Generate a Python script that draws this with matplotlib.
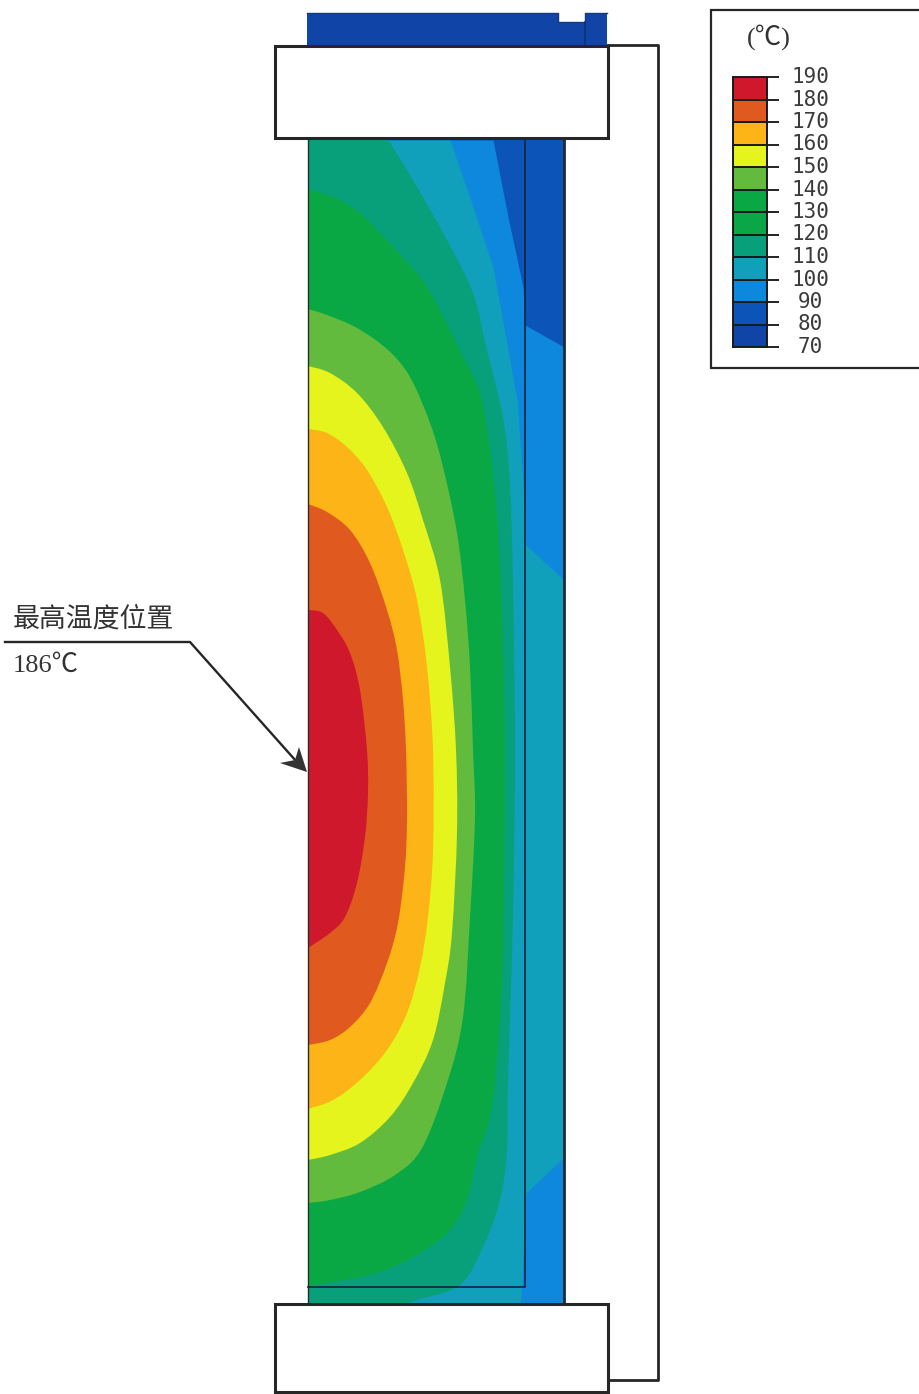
import matplotlib
matplotlib.use('Agg')
from matplotlib import pyplot as plt
from matplotlib.patches import PathPatch, Rectangle
from matplotlib.path import Path
from matplotlib.transforms import ScaledTranslation

# Colour scale
levels = [70, 80, 90, 100, 110, 120, 130, 140, 150, 160, 170, 180, 190]
band_colors = ['#1044a6', '#0c54b8', '#0e88dc', '#10a0bc', '#08a07a', '#0aa648',
               '#0aa845', '#62bb3c', '#e4f41c', '#fcb416', '#e05a20', '#d0182c']

# Isotherms (pixel position along the section)
iso_90_y = [140, 217, 287, 325, 347, 1303]
iso_90_x = [493, 508, 523, 525, 564, 564]
iso_100_y = [140, 207, 267, 350, 400, 483, 545, 580, 1157, 1177, 1193, 1297, 1303]
iso_100_x = [450, 473, 493, 508, 517, 523, 526, 564, 564, 543, 526, 521, 520]
iso_110_y = [138, 180, 240, 293, 350, 417, 483, 583, 750, 917, 1083, 1150, 1200, 1247, 1285, 1300, 1304]
iso_110_x = [387, 413, 447, 473, 487, 503, 510, 513, 515, 513, 508, 507, 500, 483, 460, 417, 405]
iso_120_y = [189, 197, 213, 247, 287, 357, 393, 450, 517, 617, 750, 883, 983, 1100, 1157, 1200, 1230, 1253, 1273, 1283, 1286]
iso_120_x = [308, 333, 360, 393, 427, 463, 480, 490, 497, 502, 505, 504, 502, 493, 477, 467, 450, 420, 377, 327, 308]
iso_140_y = [309, 315, 328, 350, 377, 423, 467, 533, 600, 667, 750, 817, 917, 1017, 1083, 1148, 1175, 1192, 1200, 1203]
iso_140_x = [308, 327, 357, 388, 410, 430, 443, 457, 465, 470, 473, 475, 470, 463, 447, 422, 395, 360, 330, 308]
iso_150_y = [366, 373, 393, 427, 473, 520, 580, 667, 750, 833, 933, 983, 1040, 1083, 1117, 1143, 1155, 1160]
iso_150_x = [308, 330, 357, 383, 407, 423, 440, 450, 456, 457, 452, 445, 433, 413, 390, 360, 330, 308]
iso_160_y = [429, 433, 447, 470, 507, 550, 600, 667, 750, 850, 917, 967, 1013, 1050, 1080, 1100, 1109]
iso_160_x = [308, 327, 347, 367, 387, 403, 417, 427, 433, 433, 428, 420, 407, 387, 360, 333, 308]
iso_170_y = [504, 512, 530, 563, 610, 650, 700, 750, 817, 867, 923, 963, 1003, 1027, 1040, 1045]
iso_170_x = [308, 327, 350, 370, 387, 397, 403, 406, 407, 405, 398, 387, 370, 350, 330, 308]
iso_180_y = [610, 613, 630, 653, 690, 750, 793, 837, 883, 917, 933, 948]
iso_180_x = [308, 323, 337, 350, 360, 367, 368, 365, 357, 345, 330, 308]

isotherms = [(iso_110_y, iso_110_x, '#08a07a'), (iso_120_y, iso_120_x, '#0aa845'),
             (iso_140_y, iso_140_x, '#62bb3c'), (iso_150_y, iso_150_x, '#e4f41c'),
             (iso_160_y, iso_160_x, '#fcb416'), (iso_170_y, iso_170_x, '#e05a20'),
             (iso_180_y, iso_180_x, '#d0182c')]


def band_path(xs, ys):
    # Bezier through the read points, closed along the left wall
    pts = list(zip(xs, ys))
    verts = [(308, ys[0]), pts[0]]
    codes = [Path.MOVETO, Path.LINETO]
    for i in range(len(pts) - 1):
        p0 = pts[max(i - 1, 0)]
        p1 = pts[i]
        p2 = pts[i + 1]
        p3 = pts[min(i + 2, len(pts) - 1)]
        c1 = (p1[0] + (p2[0] - p0[0]) / 6, p1[1] + (p2[1] - p0[1]) / 6)
        c2 = (p2[0] - (p3[0] - p1[0]) / 6, p2[1] - (p3[1] - p1[1]) / 6)
        verts += [c1, c2, p2]
        codes += [Path.CURVE4] * 3
    verts += [(308, ys[-1]), (308, ys[0])]
    codes += [Path.LINETO, Path.CLOSEPOLY]
    return Path(verts, codes)


dark = '#262626'
fig = plt.figure(figsize=(9.2, 13.94), dpi=100)
ax = fig.add_axes([0, 0, 1, 1])
ax.set_xlim(0, 920)
ax.set_ylim(1394, 0)
ax.axis('off')

# Cold end of the section, then each warmer band painted over it
section = Rectangle((308, 139), 256, 1164, fc='#0c54b8', ec='none', zorder=1)
ax.add_patch(section)
ax.fill_betweenx(iso_90_y, 308, iso_90_x, color='#0e88dc', lw=0, zorder=2)
ax.fill_betweenx(iso_100_y, 308, iso_100_x, color='#10a0bc', lw=0, zorder=2)
for ys, xs, col in isotherms:
    band = PathPatch(band_path(xs, ys), fc=col, ec='none', zorder=2)
    ax.add_patch(band)
    band.set_clip_path(section)

# Top block with its notch
ax.fill([307, 558, 558, 585, 585, 607, 607, 307], [13, 13, 22, 22, 13, 13, 46, 46],
        color='#1044a6', lw=0, zorder=3)
ax.plot([307, 558, 558, 585, 585, 607], [13, 13, 22, 22, 13, 13], color='#123a80', lw=1, zorder=3)
ax.plot([585, 585], [22, 46], color='#10306e', lw=1.2, zorder=3)

# Section outlines
ax.plot([308, 308], [139, 1303], color='#2a2a2a', lw=1, zorder=4)
ax.plot([564, 564], [139, 1303], color='#1c2a3a', lw=2, zorder=4)
ax.plot([525, 525, 308], [139, 1287, 1287], color='#14243c', lw=1.2, zorder=4)

# Plates and the outer frame
ax.add_patch(Rectangle((275, 46), 333, 92, fc='white', ec=dark, lw=2.2, zorder=5))
ax.add_patch(Rectangle((275, 1304), 333, 88, fc='white', ec=dark, lw=2.2, zorder=5))
ax.plot([608, 658, 658, 609], [45, 45, 1380, 1380], color=dark, lw=2, zorder=4)

# Callout
ax.plot([5, 190, 296], [642, 642, 761], color=dark, lw=1.7, zorder=6, solid_joinstyle='miter')
ax.fill([307, 280, 295, 299], [772, 763, 760, 747], color='#333333', lw=0, zorder=6)
ax.text(13, 619, '最高温度位置', fontsize=19.4, family=['Noto Sans CJK SC'], color='#333333',
        ha='left', va='center', zorder=6)
ax.text(13, 666, '186℃', fontsize=19, family=['Liberation Serif', 'Noto Sans CJK SC'], color='#333333',
        ha='left', va='center', zorder=6)

# Legend box
ax.add_patch(Rectangle((711, 10), 220, 358, fc='white', ec=dark, lw=1.6, zorder=3))
ax.text(769, 37, '(℃)', fontsize=19, family=['Liberation Serif', 'Noto Sans CJK SC'], color='#333333',
        ha='center', va='center', zorder=6)

cax = fig.add_axes([733 / 920, 1 - 347 / 1394, 34 / 920, 270 / 1394])
cax.barh(levels[:-1], 1, height=10, align='edge', color=band_colors, edgecolor='#1a1a1a', lw=1.4)
cax.set_xlim(0, 1)
cax.set_ylim(70, 190)
cax.set_xticks([])
cax.set_yticks(levels)
cax.yaxis.tick_right()
cax.tick_params(axis='y', length=8.5, width=1.4, color='#222222', pad=23, labelsize=15, labelcolor='#3a3a3a')
nudge = ScaledTranslation(0, 2 / 100, fig.dpi_scale_trans)
for lab in cax.get_yticklabels():
    lab.set_family('DejaVu Sans Mono')
    lab.set_ha('center')
    lab.set_transform(lab.get_transform() + nudge)
for spine in cax.spines.values():
    spine.set_linewidth(1.4)
    spine.set_color('#1a1a1a')

fig.savefig('out.png', dpi=100)
